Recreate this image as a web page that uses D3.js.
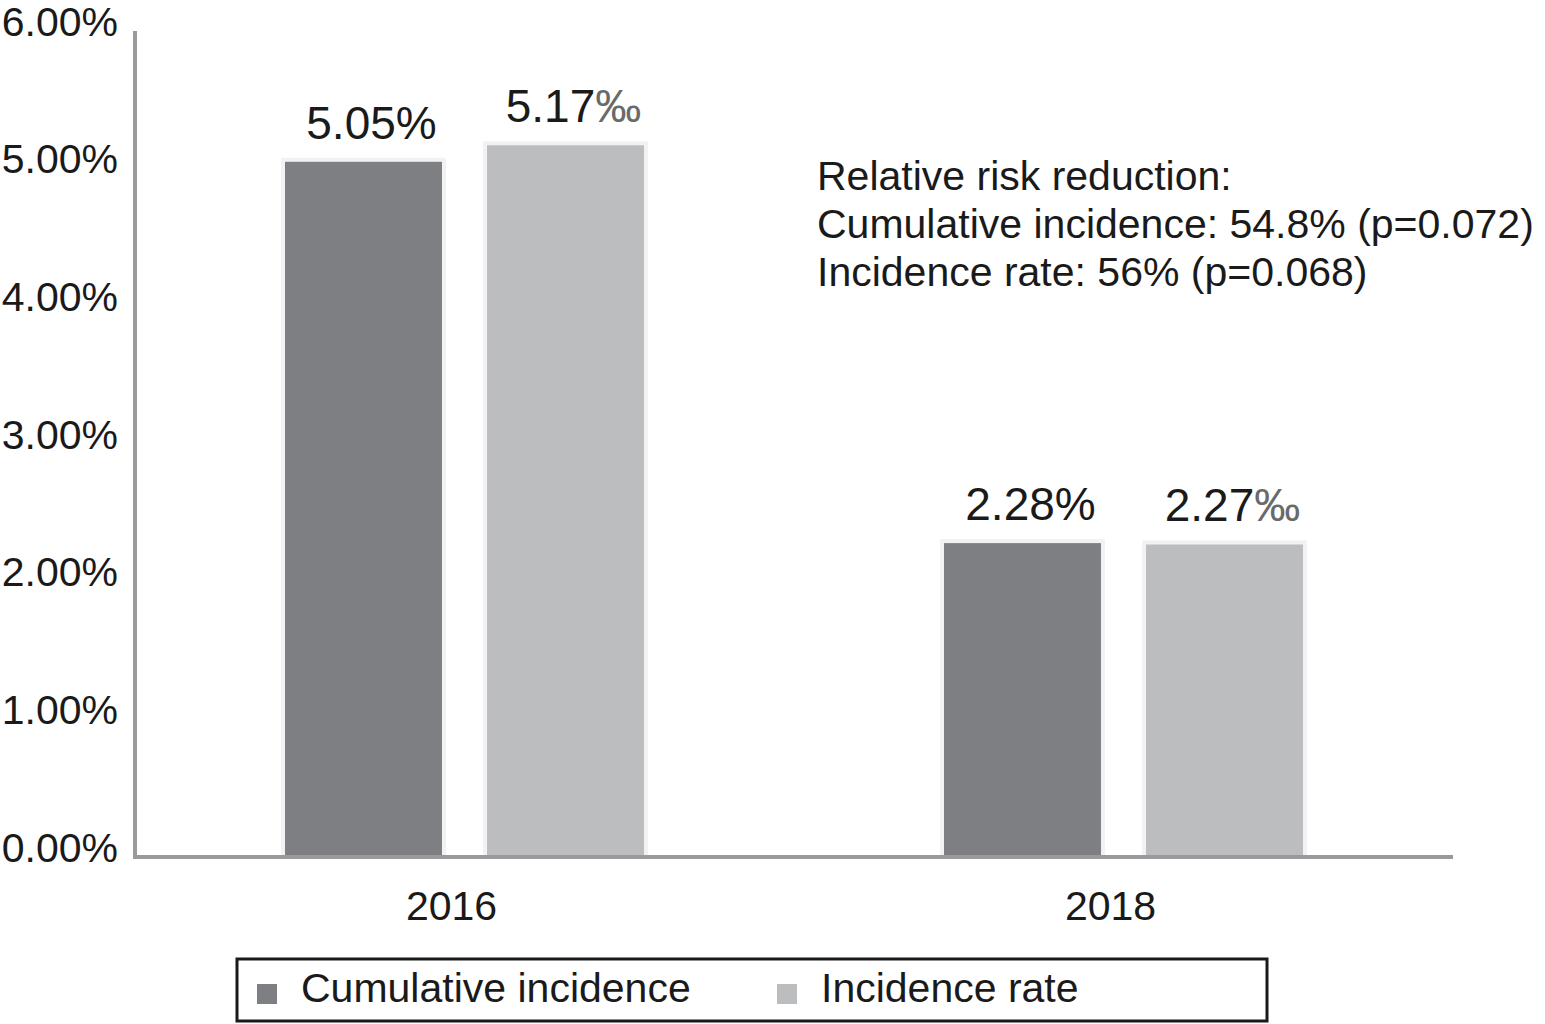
<!DOCTYPE html>
<html>
<head>
<meta charset="utf-8">
<script src="https://cdn.jsdelivr.net/npm/d3@7"></script>
<style>
  html, body { margin: 0; padding: 0; background: #ffffff; }
  svg { display: block; font-family: "Liberation Sans", Arial, Helvetica, sans-serif; }
</style>
</head>
<body>
<svg id="chart" width="1545" height="1024"></svg>
<script>
// ---- data ----
const years = ["2016", "2018"];
const seriesNames = ["Cumulative incidence", "Incidence rate"];
const cumulativeIncidence = [5.05, 2.28];
const incidenceRate = [5.17, 2.27];
const seriesUnits = ["%", "‰"];
const yTicks = [0, 1, 2, 3, 4, 5, 6];
const noteLines = [
  "Relative risk reduction:",
  "Cumulative incidence: 54.8% (p=0.072)",
  "Incidence rate: 56% (p=0.068)"
];
const seriesColors = ["#7e7f83", "#bcbdbf"];

const seriesValues = [cumulativeIncidence, incidenceRate];

// ---- layout ----
const svg = d3.select("#chart");
const axisX = 135, axisRight = 1453, axisTop = 31, axisBottom = 857;
const FS = 41;

const y = d3.scaleLinear().domain([0, 6]).range([axisBottom, axisTop]);
const x = d3.scaleBand().domain(years).range([axisX, axisRight]);
const xs = d3.scaleBand().domain(seriesNames).range([150, 509]).paddingInner(0.223);

// bars
years.forEach((yr, i) => {
  const g = svg.append("g").attr("transform", `translate(${x(yr)},0)`);
  seriesNames.forEach((s, j) => {
    const v = seriesValues[j][i];
    // faint halo
    g.append("rect")
      .attr("x", xs(s) - 4).attr("y", y(v) - 4)
      .attr("width", xs.bandwidth() + 8).attr("height", y(0) - y(v) + 4)
      .attr("fill", "#f2f2f4");
    g.append("rect")
      .attr("x", xs(s)).attr("y", y(v))
      .attr("width", xs.bandwidth()).attr("height", y(0) - y(v))
      .attr("fill", seriesColors[j]);
    const t = g.append("text")
      .attr("x", xs(s) + xs.bandwidth() / 2 + 8)
      .attr("y", y(v) - 23)
      .attr("text-anchor", "middle")
      .attr("font-size", 46)
      .attr("fill", "#1a1a1a");
    t.append("tspan").text(v.toFixed(2));
    t.append("tspan").attr("fill", seriesUnits[j] === "‰" ? "#6a6a6a" : "#1a1a1a").text(seriesUnits[j]);
  });
});

// axes lines
svg.append("line")
  .attr("x1", axisX).attr("x2", axisX)
  .attr("y1", axisTop).attr("y2", axisBottom + 2)
  .attr("stroke", "#9a9a9c").attr("stroke-width", 4);
svg.append("line")
  .attr("x1", axisX - 2).attr("x2", axisRight)
  .attr("y1", axisBottom).attr("y2", axisBottom)
  .attr("stroke", "#9a9a9c").attr("stroke-width", 4);

// y tick labels
const yAxis = d3.axisLeft(y).tickValues(yTicks).tickSize(0).tickPadding(0)
  .tickFormat(d => d.toFixed(2) + "%");
const gy = svg.append("g").attr("transform", `translate(118,0)`).call(yAxis);
gy.select(".domain").remove();
gy.selectAll("text")
  .attr("font-size", FS)
  .attr("font-family", "Liberation Sans, Arial, sans-serif")
  .attr("fill", "#1a1a1a")
  .attr("dy", 0)
  .attr("transform", "translate(0,4)");

// x labels
const xAxis = d3.axisBottom(x).tickSize(0).tickPadding(0);
const gx = svg.append("g").attr("transform", `translate(-13,${axisBottom + 63})`).call(xAxis);
gx.select(".domain").remove();
gx.selectAll("text")
  .attr("font-size", FS)
  .attr("font-family", "Liberation Sans, Arial, sans-serif")
  .attr("fill", "#1a1a1a")
  .attr("dy", 0);

// annotation
svg.append("g").selectAll("text").data(noteLines).join("text")
  .attr("x", 817)
  .attr("y", (d, i) => 190 + i * 48)
  .attr("font-size", FS)
  .attr("fill", "#1a1a1a")
  .text(d => d);

// legend
const lg = svg.append("g");
lg.append("rect")
  .attr("x", 237).attr("y", 959).attr("width", 1030).attr("height", 62)
  .attr("fill", "none").attr("stroke", "#1a1a1a").attr("stroke-width", 3);
const legendX = [257, 777];
seriesNames.forEach((s, j) => {
  lg.append("rect")
    .attr("x", legendX[j]).attr("y", 984).attr("width", 20).attr("height", 20)
    .attr("fill", seriesColors[j]);
  lg.append("text")
    .attr("x", legendX[j] + 44).attr("y", 1002)
    .attr("font-size", FS).attr("fill", "#1a1a1a")
    .text(s);
});
</script>
</body>
</html>
